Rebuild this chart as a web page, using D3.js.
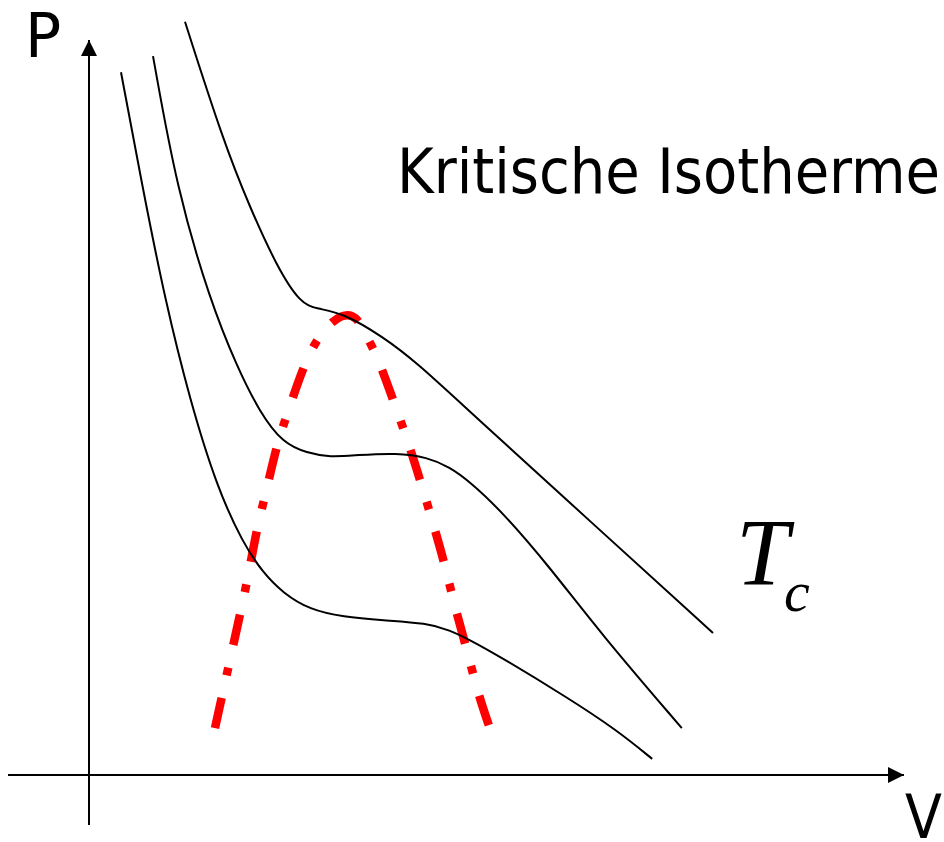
<!DOCTYPE html>
<html>
<head>
<meta charset="utf-8">
<script src="https://cdn.jsdelivr.net/npm/d3@7"></script>
<style>
  html, body { margin: 0; padding: 0; background: #fff; }
  svg { display: block; }
</style>
</head>
<body>
<svg id="chart" width="944" height="842"></svg>
<script>
// Van-der-Waals style isotherms (P over V), arbitrary units
const isothermCritical = [
  [12.0, 107.6], [16.75, 90.7], [20.1, 81.1], [23.5, 72.6],
  [26.4, 67.4], [28.5, 66.6], [31.75, 66.0], [36.75, 62.6], [41.0, 58.9],
  [47.6, 51.9], [62.6, 36.3], [78.0, 20.3]
];
const isothermMiddle = [
  [8.0, 102.7], [11.0, 83.6], [15.1, 67.9], [18.5, 58.3], [21.4, 51.7],
  [24.25, 47.4], [27.25, 46.0], [30.1, 45.4], [33.5, 45.7], [38.5, 46.0],
  [42.25, 45.4], [45.1, 44.0], [47.6, 41.9], [51.4, 37.9], [57.6, 29.7],
  [63.9, 20.3], [74.1, 6.7]
];
const isothermLow = [
  [4.0, 100.4], [6.75, 83.6], [9.5, 67.9], [12.6, 53.6], [16.0, 41.1],
  [19.25, 33.1], [21.75, 28.9], [24.25, 26.0], [27.6, 23.6], [31.75, 22.6],
  [36.75, 22.1], [42.25, 21.7], [45.1, 20.7], [47.6, 19.3], [51.4, 16.9],
  [59.75, 11.1], [66.0, 6.4], [70.4, 2.3]
];
// Coexistence dome (binodal), left foot to right foot
const dome = [
  [15.75, 6.7], [18.25, 19.7], [19.75, 27.4], [21.0, 35.4], [22.0, 39.7],
  [23.5, 47.4], [24.9, 51.9], [26.75, 58.3], [28.9, 63.3], [31.75, 66.1],
  [33.5, 65.4], [34.25, 63.6], [36.0, 60.0], [38.0, 53.6], [39.75, 48.1],
  [41.4, 42.1], [43.0, 36.0], [44.5, 30.0], [45.75, 23.9], [47.25, 17.9],
  [48.6, 11.7], [50.1, 6.7]
];

const axisLabels = { p: "P", v: "V" };
const curveTitle = "Kritische Isotherme";

const svg = d3.select("#chart");
const x = d3.scaleLinear().domain([0, 100]).range([89, 889]);
const y = d3.scaleLinear().domain([0, 100]).range([775, 75]);

const line = d3.line()
  .x(d => x(d[0]))
  .y(d => y(d[1]))
  .curve(d3.curveBasis);

// axes with arrowheads
const defs = svg.append("defs");
defs.append("marker")
  .attr("id", "arrow")
  .attr("viewBox", "0 0 10 10")
  .attr("refX", 10).attr("refY", 5)
  .attr("markerUnits", "userSpaceOnUse")
  .attr("markerWidth", 16).attr("markerHeight", 16)
  .attr("orient", "auto")
  .append("path").attr("d", "M0,0 L10,5 L0,10 Z").attr("fill", "#000");

svg.append("line")
  .attr("x1", x(0)).attr("y1", 825)
  .attr("x2", x(0)).attr("y2", 40)
  .attr("stroke", "#000").attr("stroke-width", 2)
  .attr("marker-end", "url(#arrow)");
svg.append("line")
  .attr("x1", 8).attr("y1", y(0))
  .attr("x2", 904).attr("y2", y(0))
  .attr("stroke", "#000").attr("stroke-width", 2)
  .attr("marker-end", "url(#arrow)");

// dome
svg.append("path")
  .attr("d", line(dome))
  .attr("fill", "none")
  .attr("stroke", "#ff0000")
  .attr("stroke-width", 8.5)
  .attr("stroke-dasharray", "31 23 8 23");

// isotherms
[isothermCritical, isothermMiddle, isothermLow].forEach(d => {
  svg.append("path")
    .attr("d", line(d))
    .attr("fill", "none")
    .attr("stroke", "#000")
    .attr("stroke-width", 2);
});

// labels
svg.append("text").attr("x", 25).attr("y", 57)
  .attr("font-family", "'DejaVu Sans', Verdana, sans-serif")
  .attr("font-size", 60).text(axisLabels.p);
svg.append("text").attr("x", 905).attr("y", 838)
  .attr("font-family", "'DejaVu Sans Condensed', 'DejaVu Sans', sans-serif")
  .attr("font-size", 60).text(axisLabels.v);
svg.append("text").attr("x", 397).attr("y", 193)
  .attr("font-family", "'DejaVu Sans Condensed', 'DejaVu Sans', sans-serif")
  .attr("font-size", 62)
  .attr("textLength", 543).attr("lengthAdjust", "spacingAndGlyphs")
  .text(curveTitle);

const serif = "'Liberation Serif', 'Times New Roman', serif";
svg.append("text").attr("x", 736).attr("y", 585)
  .attr("font-family", serif).attr("font-style", "italic")
  .attr("font-size", 95).text("T");
svg.append("text").attr("x", 784).attr("y", 611)
  .attr("font-family", serif).attr("font-style", "italic")
  .attr("font-size", 58).text("c");
</script>
</body>
</html>
